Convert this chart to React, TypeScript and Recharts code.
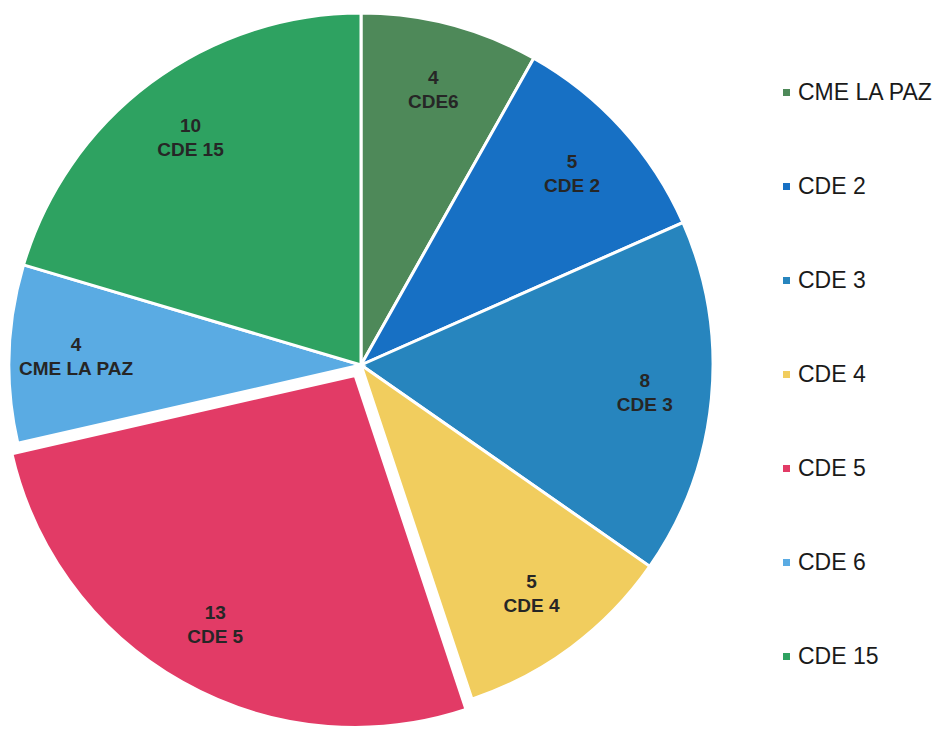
import { PieChart, Pie, Cell, Legend } from "recharts";

const names = ["CME LA PAZ", "CDE 2", "CDE 3", "CDE 4", "CDE 5", "CDE 6", "CDE 15"];
const counts = [4, 5, 8, 5, 13, 4, 10];
// text printed inside each slice (as in the original document)
const sliceLabels = ["CDE6", "CDE 2", "CDE 3", "CDE 4", "CDE 5", "CME LA PAZ", "CDE 15"];
const colors = ["#4e8959", "#1770c4", "#2785be", "#f1cd5e", "#e23b66", "#5aabe3", "#2ea261"];
const explodedIndex = 4;

const data = names.map((name, i) => ({ name, value: counts[i], text: sliceLabels[i] }));

const CX = 361;
const CY = 365;
const R = 352;
const EXPLODE = 12;
const RAD = Math.PI / 180;
const FONT = '"Liberation Sans", Arial, sans-serif';

// offset of the exploded slice, along its mid angle
const total = counts.reduce((a, b) => a + b, 0);
const before = counts.slice(0, explodedIndex).reduce((a, b) => a + b, 0);
const midFrac = (before + counts[explodedIndex] / 2) / total;
const midDeg = 90 - midFrac * 360;
const CX2 = CX + EXPLODE * Math.cos(midDeg * RAD);
const CY2 = CY - EXPLODE * Math.sin(midDeg * RAD);

function makeLabel(show: (i: number) => boolean) {
  return (props: any) => {
    const { cx, cy, midAngle, outerRadius, index, payload } = props;
    if (!show(index)) return null;
    const r = outerRadius * 0.81;
    const x = cx + r * Math.cos(-midAngle * RAD);
    const y = cy + r * Math.sin(-midAngle * RAD);
    return (
      <text
        x={x}
        y={y}
        textAnchor="middle"
        fill="#262626"
        fontFamily={FONT}
        fontWeight="bold"
        fontSize={19}
      >
        <tspan x={x} dy={-5}>{payload.value}</tspan>
        <tspan x={x} dy={24}>{payload.text}</tspan>
      </text>
    );
  };
}

function LegendList() {
  return (
    <div style={{ fontFamily: FONT }}>
      {names.map((n, i) => (
        <div
          key={n}
          style={{ height: 94, display: "flex", alignItems: "center", fontSize: 23, color: "#1a1a1a" }}
        >
          <span
            style={{
              display: "inline-block",
              width: 7,
              height: 7,
              background: colors[i],
              marginRight: 8,
            }}
          />
          {n}
        </div>
      ))}
    </div>
  );
}

export default function App() {
  return (
    <div style={{ position: "absolute", left: 0, top: 0, width: 948, height: 730, background: "#fff" }}>
      <PieChart width={948} height={730} margin={{ top: 0, right: 0, bottom: 0, left: 0 }}>
        <Pie
          data={data}
          dataKey="value"
          nameKey="name"
          cx={CX}
          cy={CY}
          outerRadius={R}
          startAngle={90}
          endAngle={-270}
          labelLine={false}
          label={makeLabel((i) => i !== explodedIndex)}
          isAnimationActive={false}
        >
          {data.map((d, i) => (
            <Cell
              key={d.name}
              fill={i === explodedIndex ? "none" : colors[i]}
              stroke={i === explodedIndex ? "none" : "#fff"}
              strokeWidth={3}
            />
          ))}
        </Pie>
        <Pie
          data={data}
          dataKey="value"
          nameKey="name"
          cx={CX2}
          cy={CY2}
          outerRadius={R}
          startAngle={90}
          endAngle={-270}
          labelLine={false}
          label={makeLabel((i) => i === explodedIndex)}
          legendType="none"
          isAnimationActive={false}
        >
          {data.map((d, i) => (
            <Cell
              key={d.name}
              fill={i === explodedIndex ? colors[i] : "none"}
              stroke={i === explodedIndex ? "#fff" : "none"}
              strokeWidth={3}
            />
          ))}
        </Pie>
        <Legend
          content={() => <LegendList />}
          wrapperStyle={{ position: "absolute", left: 783, top: 45, width: 165 }}
        />
      </PieChart>
    </div>
  );
}
